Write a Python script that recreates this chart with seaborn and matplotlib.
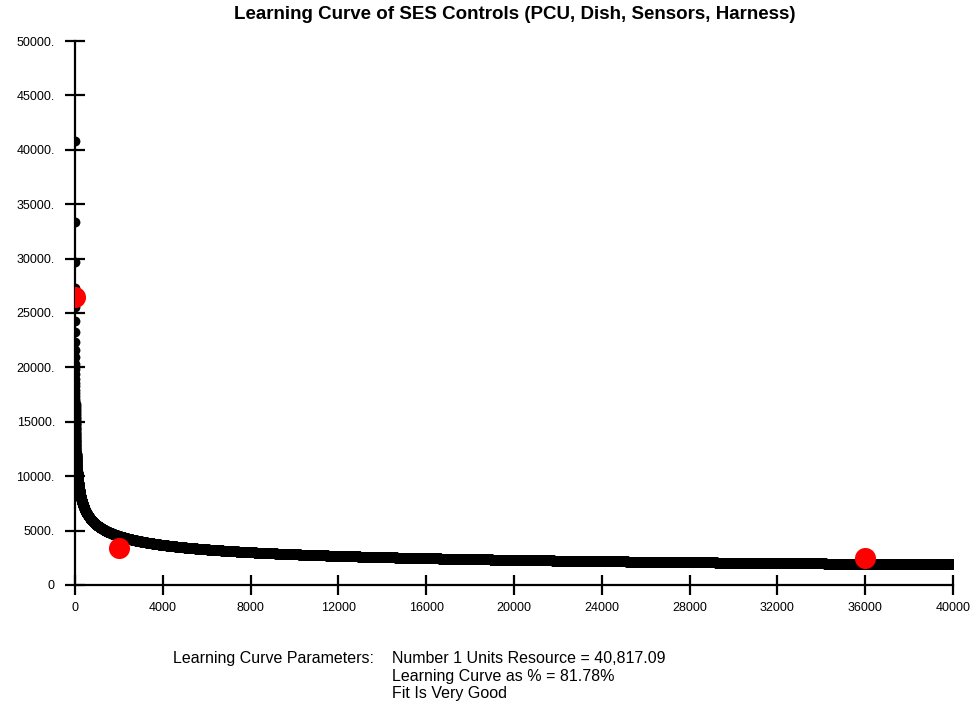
import numpy as np
import pandas as pd
import matplotlib
matplotlib.use("Agg")
import matplotlib.pyplot as plt
import seaborn as sns
from matplotlib.ticker import FuncFormatter

# Fitted learning-curve parameters
first_unit_cost = 40817.09
learning_pct = 81.78
max_units = 40000

# Observed data points
obs_units = [1, 2000, 36000]
obs_cost = [26500, 3400, 2450]

# Axis ticks
x_ticks = [0, 4000, 8000, 12000, 16000, 20000, 24000, 28000, 32000, 36000, 40000]
y_ticks = [0, 5000, 10000, 15000, 20000, 25000, 30000, 35000, 40000, 45000, 50000]

units = np.arange(1, max_units + 1)
exponent = np.log2(learning_pct / 100.0)
curve = pd.DataFrame({"unit": units, "cost": first_unit_cost * units.astype(float) ** exponent})
obs = pd.DataFrame({"unit": obs_units, "cost": obs_cost})

sns.set_theme(style="white")
plt.rcParams["font.family"] = ["Liberation Sans", "DejaVu Sans"]
plt.rcParams["text.color"] = "black"

fig = plt.figure(figsize=(9.77, 7.07), dpi=100)
ax = fig.add_axes([0.0768, 0.1726, 0.8986, 0.7694])

sns.scatterplot(data=curve, x="unit", y="cost", ax=ax, color="black",
                s=50, linewidth=0, legend=False, zorder=2)
sns.scatterplot(data=obs, x="unit", y="cost", ax=ax, color="#ff0000",
                s=230, linewidth=0, legend=False, zorder=3)

ax.set_xlim(0, 40000)
ax.set_ylim(0, 50000)
ax.set_xticks(x_ticks)
ax.set_yticks(y_ticks)
ax.xaxis.set_major_formatter(FuncFormatter(lambda v, p: f"{int(v)}"))
ax.yaxis.set_major_formatter(FuncFormatter(lambda v, p: "0" if v == 0 else f"{int(v)}."))
ax.set_xlabel("")
ax.set_ylabel("")

for side in ("top", "right"):
    ax.spines[side].set_visible(False)
for side in ("left", "bottom"):
    ax.spines[side].set_color("black")
    ax.spines[side].set_linewidth(1.6)
ax.tick_params(axis="both", which="major", bottom=True, left=True,
               direction="inout", length=15, width=1.6, color="black",
               labelsize=9, labelcolor="black")
ax.tick_params(axis="y", pad=7)
ax.tick_params(axis="x", pad=5)

fig.text(0.527, 0.979, "Learning Curve of SES Controls (PCU, Dish, Sensors, Harness)",
         ha="center", va="center", fontsize=13.5, fontweight="bold", color="black")

fig.text(0.177, 0.0693, "Learning Curve Parameters:", ha="left", va="center", fontsize=11.5)
fig.text(0.401, 0.0693, "Number 1 Units Resource = 40,817.09", ha="left", va="center", fontsize=11.5)
fig.text(0.401, 0.0430, "Learning Curve as % = 81.78%", ha="left", va="center", fontsize=11.5)
fig.text(0.401, 0.0190, "Fit Is Very Good", ha="left", va="center", fontsize=11.5)

fig.savefig("out.png", dpi=100)
